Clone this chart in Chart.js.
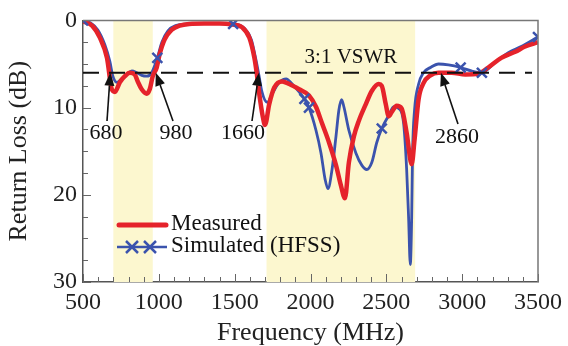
<!DOCTYPE html>
<html lang="en">
<head>
    <meta charset="UTF-8">
    <title>Return Loss</title>
    <script src="https://cdn.jsdelivr.net/npm/chart.js@4"></script>
    <style>
        body { margin: 0; background: #fff; }
        canvas { display: block; }
    </style>
</head>
<body>
    <canvas id="rl-chart" width="568" height="346"></canvas>

    <script>
        // measured curve (MHz, dB)
        const measFreq = [500, 560, 612, 658, 690, 710, 743, 776, 809, 841, 861, 887, 920, 940, 960, 986, 1005, 1038, 1084, 1137, 1200, 1300, 1400, 1480, 1550, 1597, 1630, 1645, 1662, 1685, 1700, 1728, 1761, 1813, 1860, 1925, 1990, 2036, 2076, 2122, 2168, 2200, 2227, 2253, 2286, 2319, 2365, 2404, 2450, 2470, 2496, 2516, 2536, 2568, 2601, 2634, 2667, 2686, 2713, 2745, 2791, 2844, 2930, 3021, 3107, 3172, 3258, 3350, 3415, 3500];
        const measLoss = [0.1, 0.6, 2.0, 4.3, 7.9, 8.2, 7.1, 6.4, 6.0, 6.2, 7.0, 7.9, 8.4, 7.9, 6.4, 5.4, 3.9, 2.2, 1.1, 0.6, 0.4, 0.35, 0.35, 0.45, 0.8, 2.0, 4.3, 6.0, 8.4, 11.0, 12.0, 9.6, 7.7, 7.0, 7.3, 7.9, 8.6, 9.9, 11.8, 14.0, 16.6, 18.9, 20.4, 16.3, 13.3, 11.5, 9.6, 8.1, 7.3, 7.5, 9.6, 11.0, 10.5, 9.8, 10.1, 12.9, 16.5, 13.7, 9.0, 7.2, 6.3, 6.0, 6.0, 6.2, 6.1, 5.4, 4.3, 3.6, 3.0, 2.5];

        // simulated (HFSS) curve
        const simFreq = [500, 550, 598, 644, 677, 697, 723, 756, 789, 822, 855, 887, 920, 953, 990, 1020, 1060, 1110, 1200, 1300, 1400, 1490, 1564, 1610, 1640, 1660, 1680, 1715, 1748, 1794, 1840, 1879, 1925, 1960, 1990, 2036, 2069, 2096, 2115, 2142, 2168, 2187, 2205, 2220, 2253, 2299, 2338, 2371, 2404, 2437, 2470, 2516, 2549, 2582, 2614, 2634, 2647, 2658, 2667, 2673, 2686, 2713, 2745, 2791, 2844, 2910, 2990, 3061, 3130, 3218, 3304, 3389, 3500];
        const simLoss = [0, 0.3, 1.1, 2.8, 4.7, 6.4, 7.1, 6.7, 6.2, 5.8, 6.0, 6.3, 6.4, 6.0, 4.3, 2.5, 1.2, 0.6, 0.4, 0.35, 0.35, 0.4, 0.9, 2.2, 4.5, 6.3, 8.2, 9.4, 8.4, 7.1, 6.7, 7.3, 8.2, 9.0, 10.0, 12.6, 15.2, 18.2, 19.3, 17.1, 13.3, 10.3, 9.1, 9.9, 12.6, 15.2, 16.6, 17.1, 16.3, 14.0, 12.4, 10.9, 9.9, 10.1, 11.8, 17.1, 22.7, 28.0, 22.7, 15.2, 10.3, 7.3, 6.0, 5.4, 5.0, 5.1, 5.4, 5.8, 6.0, 4.8, 3.7, 3.0, 1.9];
        const simMarkers = [500, 990, 1490, 1960, 1990, 2470, 2990, 3130, 3500];

        const bands = [[700, 960], [1710, 2690]];
        const vswrLevel = 6;
        const vswrLabel = '3:1 VSWR';
        const edgeFreqs = [680, 980, 1660, 2860];
        const edgeLabels = ['680', '980', '1660', '2860'];
        const legendLabels = ['Measured', 'Simulated (HFSS)'];

        const RED = '#e5232b';
        const BLUE = '#3b53ad';
        const SERIF = '"Liberation Serif", "Times New Roman", serif';

        // where each arrow tail and label sit (pixels)
        const arrowLayout = [
            { tail: [107, 121], label: [106, 133] },
            { tail: [173, 121], label: [176, 133] },
            { tail: [252, 121], label: [243, 133] },
            { tail: [458, 124], label: [457, 137] }
        ];

        function arrow(ctx, x0, y0, x1, y1) {
            const ang = Math.atan2(y1 - y0, x1 - x0);
            const len = 13, half = 5;
            const bx = x1 - len * Math.cos(ang), by = y1 - len * Math.sin(ang);
            ctx.beginPath();
            ctx.moveTo(x0, y0);
            ctx.lineTo(bx, by);
            ctx.stroke();
            ctx.beginPath();
            ctx.moveTo(x1, y1);
            ctx.lineTo(bx + half * Math.sin(ang), by - half * Math.cos(ang));
            ctx.lineTo(bx - half * Math.sin(ang), by + half * Math.cos(ang));
            ctx.closePath();
            ctx.fill();
        }

        const overlay = {
            id: 'overlay',
            beforeDatasetsDraw(chart) {
                const { ctx, chartArea: a, scales: { x, y } } = chart;
                ctx.save();
                ctx.fillStyle = '#fcf7cf';
                bands.forEach(([f0, f1]) => {
                    const x0 = x.getPixelForValue(f0), x1 = x.getPixelForValue(f1);
                    ctx.fillRect(x0, a.top, x1 - x0, a.bottom - a.top);
                });
                // inward tick marks
                ctx.strokeStyle = '#666';
                ctx.lineWidth = 1;
                for (let v = 0; v <= 30; v += 2.5) {
                    const py = Math.round(y.getPixelForValue(v)) + 0.5;
                    const len = v % 10 === 0 ? 8 : 5;
                    ctx.beginPath();
                    ctx.moveTo(a.left, py);
                    ctx.lineTo(a.left + len, py);
                    ctx.stroke();
                }
                for (let f = 500; f <= 3500; f += 100) {
                    const px = Math.round(x.getPixelForValue(f)) + 0.5;
                    const len = f % 500 === 0 ? 8 : 5;
                    ctx.beginPath();
                    ctx.moveTo(px, a.bottom);
                    ctx.lineTo(px, a.bottom - len);
                    ctx.stroke();
                }
                ctx.restore();
            },
            afterDraw(chart) {
                const { ctx, chartArea: a, scales: { x, y } } = chart;
                ctx.save();
                // frame top/right
                ctx.strokeStyle = '#777';
                ctx.lineWidth = 1.5;
                ctx.beginPath();
                ctx.moveTo(a.left, a.top);
                ctx.lineTo(a.right, a.top);
                ctx.lineTo(a.right, a.bottom);
                ctx.stroke();

                // 3:1 VSWR dashed line
                const vy = y.getPixelForValue(vswrLevel);
                ctx.strokeStyle = '#111';
                ctx.lineWidth = 2;
                ctx.setLineDash([16, 10]);
                ctx.beginPath();
                ctx.moveTo(a.left, vy);
                ctx.lineTo(a.right - 6, vy);
                ctx.stroke();
                ctx.setLineDash([]);

                ctx.fillStyle = '#111';
                ctx.font = '21px ' + SERIF;
                ctx.textAlign = 'center';
                ctx.textBaseline = 'middle';
                ctx.fillText(vswrLabel, 351, 57);

                // band edge arrows
                ctx.lineWidth = 1.6;
                edgeFreqs.forEach((f, i) => {
                    const lay = arrowLayout[i];
                    arrow(ctx, lay.tail[0], lay.tail[1], x.getPixelForValue(f), vy);
                    ctx.font = '22px ' + SERIF;
                    ctx.fillText(edgeLabels[i], lay.label[0], lay.label[1]);
                });

                // legend
                ctx.textAlign = 'left';
                ctx.font = '23px ' + SERIF;
                ctx.strokeStyle = RED;
                ctx.lineWidth = 5;
                ctx.lineCap = 'round';
                ctx.beginPath();
                ctx.moveTo(119, 225);
                ctx.lineTo(166, 225);
                ctx.stroke();
                ctx.fillText(legendLabels[0], 171, 224);

                ctx.strokeStyle = BLUE;
                ctx.lineWidth = 2.5;
                ctx.lineCap = 'butt';
                ctx.beginPath();
                ctx.moveTo(117, 247);
                ctx.lineTo(167, 247);
                ctx.stroke();
                [132, 150].forEach(cx => {
                    ctx.beginPath();
                    ctx.moveTo(cx - 6, 241); ctx.lineTo(cx + 6, 253);
                    ctx.moveTo(cx + 6, 241); ctx.lineTo(cx - 6, 253);
                    ctx.stroke();
                });
                ctx.fillStyle = '#111';
                ctx.fillText(legendLabels[1], 171, 246);
                ctx.restore();
            }
        };

        const measured = measFreq.map((f, i) => ({ x: f, y: measLoss[i] }));
        const simulated = simFreq.map((f, i) => ({ x: f, y: simLoss[i] }));
        const markers = simMarkers.map(f => ({ x: f, y: simLoss[simFreq.indexOf(f)] }));

        new Chart(document.getElementById('rl-chart'), {
            type: 'line',
            data: {
                datasets: [
                    {
                        label: 'markers',
                        data: markers,
                        showLine: false,
                        pointStyle: 'crossRot',
                        pointRadius: 7,
                        pointBorderWidth: 2.5,
                        pointBorderColor: BLUE,
                        borderColor: BLUE
                    },
                    {
                        label: legendLabels[0],
                        data: measured,
                        borderColor: RED,
                        borderWidth: 4.5,
                        pointRadius: 0,
                        cubicInterpolationMode: 'monotone'
                    },
                    {
                        label: legendLabels[1],
                        data: simulated,
                        borderColor: BLUE,
                        borderWidth: 2.8,
                        pointRadius: 0,
                        cubicInterpolationMode: 'monotone'
                    }
                ]
            },
            options: {
                responsive: false,
                animation: false,
                layout: { padding: { top: 14, right: 26, left: 0, bottom: 0 } },
                plugins: { legend: { display: false }, tooltip: { enabled: false } },
                scales: {
                    x: {
                        type: 'linear',
                        min: 500, max: 3500,
                        afterFit: s => { s.height = 64; },
                        grid: { display: false, drawTicks: false },
                        border: { display: true, color: '#555', width: 1.5 },
                        ticks: {
                            stepSize: 500, autoSkip: false, maxRotation: 0, padding: 6,
                            callback: v => String(v),
                            color: '#222', font: { family: SERIF, size: 24 }
                        },
                        title: {
                            display: true, text: 'Frequency (MHz)', color: '#222',
                            font: { family: SERIF, size: 26 }, padding: { top: 0, bottom: -3 }
                        }
                    },
                    y: {
                        min: 0, max: 30, reverse: true,
                        afterFit: s => { s.width = 83; },
                        grid: { display: false, drawTicks: false },
                        border: { display: true, color: '#555', width: 1.5 },
                        ticks: {
                            stepSize: 10, padding: 6,
                            color: '#222', font: { family: SERIF, size: 24 }
                        },
                        title: {
                            display: true, text: 'Return Loss (dB)', color: '#222',
                            font: { family: SERIF, size: 26 }, padding: { top: 4, bottom: 0 }
                        }
                    }
                }
            },
            plugins: [overlay]
        });
    </script>
</body>
</html>
